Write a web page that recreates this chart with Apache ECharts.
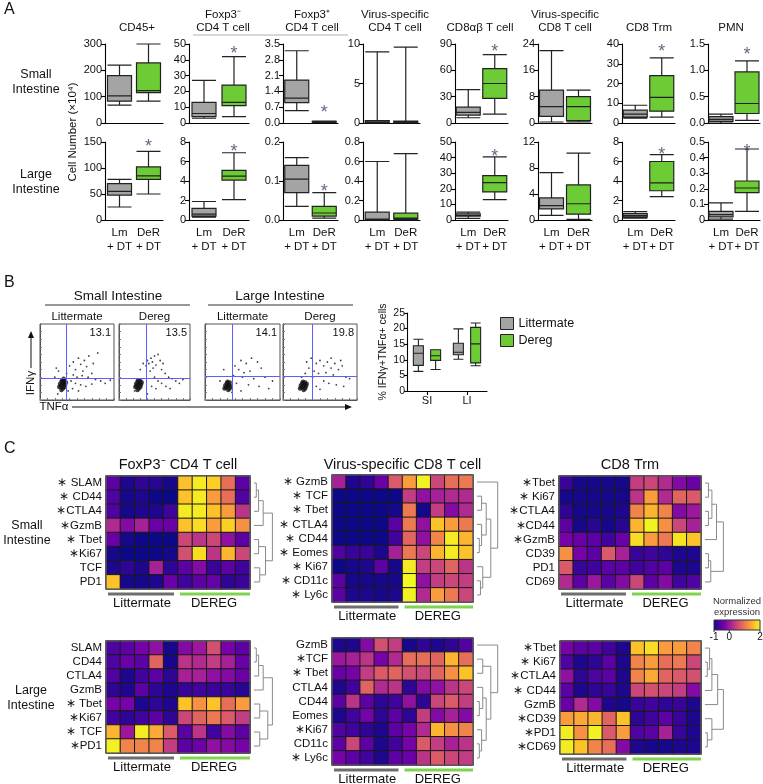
<!DOCTYPE html>
<html><head><meta charset="utf-8">
<script src="https://cdn.jsdelivr.net/npm/echarts@6/dist/echarts.min.js"></script>
<style>html,body{margin:0;padding:0;background:#fff}#c{width:763px;height:784px}</style>
</head><body><div id="c"></div>
<script>
// ---------------- DATA ----------------
const boxCategories = ['Lm\n+ DT', 'DeR\n+ DT'];
const panelATitles = ['CD45+', 'Foxp3⁻\nCD4 T cell', 'Foxp3⁺\nCD4 T cell', 'Virus-specific\nCD4 T cell', 'CD8αβ T cell', 'Virus-specific\nCD8 T cell', 'CD8 Trm', 'PMN'];
const rowNamesA = ['Small\nIntestine', 'Large\nIntestine'];
const siTickLabels = [
  ['0','100','200','300'], ['0','10','20','30','40','50'], ['0.0','0.7','1.4','2.1','2.8','3.5'], ['0','5','10'],
  ['0','30','60','90'], ['0','8','16','24'], ['0','10','20','30','40'], ['0.0','0.5','1.0','1.5']];
const siInterval = [100, 10, 0.7, 5, 30, 8, 10, 0.5];
const liTickLabels = [
  ['0','50','100','150'], ['0','2','4','6','8'], ['0.0','0.1','0.2'], ['0','0.2','0.4','0.6','0.8'],
  ['0','10','20','30','40','50'], ['0','4','8','12'], ['0','2','4','6','8'], ['0','0.1','0.2','0.3','0.4','0.5']];
const liInterval = [50, 2, 0.1, 0.2, 10, 4, 2, 0.1];
// [min, Q1, median, Q3, max]
const siLm = [[68,83,103,180,220],[3,4,6,13,27],[0.55,0.9,1.1,1.9,3.2],[0,0.02,0.1,0.3,9.0],[6,9,12,18,38],[0.3,2,5,10,22],[2.5,3,4.5,6.5,9],[0,0.03,0.07,0.12,0.17]];
const siDeR = [[83,115,123,228,300],[4,11,13,24,42],[0.02,0.04,0.05,0.07,0.08],[0,0.02,0.1,0.25,9.6],[10,28,45,62,78],[0.3,0.7,5,8,10],[3,6,13,24,33],[0.05,0.18,0.37,0.97,1.18]];
const liLm = [[25,48,55,70,78],[0.3,0.4,0.6,1.2,1.9],[0.035,0.07,0.105,0.14,0.16],[0,0,0.01,0.08,0.6],[1,2.5,3,4,5],[0.7,1.7,2.2,3.4,7.3],[0.2,0.3,0.45,0.65,0.85],[0.005,0.02,0.035,0.055,0.11]];
const liDeR = [[50,78,85,102,132],[2.1,4.1,4.5,5.1,6.9],[0.005,0.01,0.018,0.035,0.07],[0,0.01,0.02,0.07,0.68],[13,18,24,28.5,40.5],[0.1,0.9,2.5,5.4,10.3],[2.4,3,3.8,6,6.7],[0.055,0.175,0.205,0.25,0.455]];
const siStar = [null, 46.8, 0.66, null, 86, null, 38.5, 1.39];
const liStar = [150, 7.5, 0.085, null, 43.6, null, 7.2, 0.47];

// Panel B flow plots (x = TNFa, y = IFNg; 0-100 display scale)
const flowTitlesTop = ['Small Intestine', 'Large Intestine'];
const flowSubTitles = ['Littermate', 'Dereg', 'Littermate', 'Dereg'];
const flowPct = ['13.1', '13.5', '14.1', '19.8'];
const flowGateX = [36, 38, 36, 40];
const flowGateY = [29, 29, 31, 31];
const flowCluster = [
  [[28,18],[30,20],[32,22],[29,24],[33,17],[31,15],[27,21],[34,20],[30,26],[26,17],[33,25],[35,23],[29,13],[32,28]],
  [[25,18],[27,20],[29,22],[26,24],[30,17],[28,15],[24,21],[31,20],[27,26],[23,17],[30,25],[32,23],[26,13]],
  [[28,16],[30,18],[32,20],[29,22],[33,15],[31,13],[27,19],[34,18],[30,24],[26,15],[33,23]],
  [[25,16],[27,18],[29,20],[26,22],[30,15],[28,13],[24,19],[31,18],[27,24],[23,15],[30,23],[32,21]]];
const flowSparse = [
  [[22,42],[25,38],[40,45],[45,50],[48,40],[52,55],[55,47],[58,38],[60,52],[63,44],[66,58],[70,35],[72,48],[78,62],[45,33],[50,30],[57,32],[65,30],[75,27],[82,25],[88,22],[95,26],[42,25],[48,22],[55,20],[62,18],[70,21],[38,12],[44,15],[52,12],[20,30],[24,8],[36,35]],
  [[38,45],[40,52],[42,48],[45,55],[47,50],[50,58],[52,46],[55,60],[58,52],[62,48],[48,42],[44,38],[60,40],[65,35],[70,30],[75,28],[80,25],[85,22],[90,27],[55,25],[60,22],[50,30],[46,18],[52,15],[66,18],[72,15],[30,40],[34,48],[22,12],[40,8]],
  [[40,45],[48,52],[55,48],[62,55],[70,50],[45,40],[52,36],[60,38],[75,42],[50,30],[65,28],[80,30],[90,25],[42,22],[58,20],[72,18],[85,15],[38,32],[25,40],[20,25],[36,10],[48,12]],
  [[32,50],[38,55],[45,48],[50,52],[55,45],[60,50],[65,42],[70,48],[75,40],[80,45],[42,38],[48,35],[58,36],[68,33],[85,30],[90,28],[40,30],[35,42],[55,25],[62,22],[72,20],[82,18],[45,18],[50,14],[30,35],[25,30],[65,55],[78,52]]];

// Panel B summary boxplot (% IFNg+TNFa+ cells)
const bCategories = ['SI', 'LI'];
const bTickLabels = ['0','5','10','15','20','25'];
const bLitter = [[6.3,8.2,12.1,14.5,16.6],[10.2,11.6,12.4,15.3,19.9]];
const bDereg = [[6.9,9.8,11.3,13.2,13.2],[8.1,9.0,15.1,20.4,21.8]];
const bSeriesNames = ['Littermate', 'Dereg'];

// Panel C heatmaps (normalized expression, columns: 5 Littermate + 5 DEREG)
const heatTitles = ['FoxP3⁻ CD4 T cell', 'Virus-specific CD8 T cell', 'CD8 Trm'];
const heatRowNames = ['Small\nIntestine', 'Large\nIntestine'];
const groupLabels = ['Littermate', 'DEREG'];
const foxSIRows = ['∗ SLAM','∗ CD44','∗CTLA4','∗GzmB','∗ Tbet','∗Ki67','TCF','PD1'];
const foxSI = [
  [-0.5,-0.9,-0.8,-0.85,-0.95,1.6,1.9,1.7,0.9,-0.5],
  [-0.6,-0.95,-0.9,-1,-1,1.6,1.9,1.3,0.9,-0.6],
  [-0.6,-0.95,-0.9,-0.9,-0.7,1.9,1.9,1.6,1.3,0.3],
  [0.2,-0.2,0.1,-0.4,-0.4,1.6,1.8,1.3,1.7,1.2],
  [-0.4,-0.95,-1,-1,-1,0.5,0.3,0.5,-0.1,-0.5],
  [-0.95,-1,-1,-1,-0.95,0.6,1.8,0.3,1.5,0.5],
  [-0.9,-0.8,-0.9,0.1,-0.8,-0.5,-0.2,-0.75,-0.5,-0.7],
  [1.6,-0.95,-0.95,-0.9,-0.4,-0.7,-0.5,-0.45,-0.8,-0.75]];
const cd8SIRows = ['∗ GzmB','∗ TCF','∗ Tbet','∗ CTLA4','∗ CD44','∗ Eomes','∗ Ki67','∗ CD11c','∗ Ly6c'];
const cd8SI = [
  [0.1,-0.9,-0.8,-0.4,0.7,1.3,1.95,0.5,0.9,1.0],
  [-1,-1,-1,-1,-1,0.4,-0.1,0.1,0.2,0.2],
  [-1,-1,-1,-1,-0.95,1.0,-0.95,0.4,-0.2,0.2],
  [-1,-1,-1,-1,-0.5,1.0,-0.1,1.6,1.3,1.0],
  [-1,-1,-1,-1,-0.7,0.8,-0.1,1.1,1.9,1.5],
  [-0.6,-0.75,-0.75,-0.9,0.1,1.0,0.5,1.5,1.9,1.6],
  [-1,-0.95,-0.9,-0.5,-0.95,1.9,0.4,0.5,0.8,0.3],
  [-0.5,-0.95,-0.95,-0.95,-0.95,2.0,-0.1,0.4,0.5,0.4],
  [-0.5,-0.9,-0.9,-0.95,-0.9,1.95,0.2,1.3,1.0,0.5]];
const trmSIRows = ['∗Tbet','∗ Ki67','∗CTLA4','∗CD44','∗GzmB','CD39','PD1','CD69'];
const trmSI = [
  [-0.75,-0.95,-0.95,-0.95,-0.95,0.4,0.5,0.2,-0.2,-0.4],
  [-0.95,-0.95,-0.95,-0.95,-0.95,0.3,1.3,0.2,0.8,0.7],
  [-0.8,-0.95,-0.95,-0.95,-0.9,1.1,1.5,1.1,-0.2,0],
  [-0.5,-0.95,-0.85,-0.95,-0.85,1.5,1.95,1.2,0.5,0.1],
  [-0.3,-0.4,-0.5,-0.7,-0.4,1.8,1.3,1.0,1.85,1.6],
  [1.2,-0.3,-0.5,0.7,0.1,-0.75,-0.7,-0.8,-0.9,-0.9],
  [0.7,-0.75,-0.7,-0.5,-0.5,-0.7,-0.6,-0.5,-0.9,-0.9],
  [0.2,-0.5,0,-0.5,-0.2,0.5,-0.5,-0.2,-0.7,-0.6]];
const foxLIRows = ['SLAM','CD44','CTLA4','GzmB','∗ Tbet','∗Ki67','∗ TCF','∗PD1'];
const foxLI = [
  [-0.6,-0.5,-0.3,-0.1,-0.95,-0.2,0,0.6,-0.3,-0.5],
  [-0.6,-0.4,-0.5,0.8,-0.95,0.3,0.2,0.4,0.1,-0.4],
  [-0.6,-0.9,-0.7,-0.5,-0.8,0.1,0.1,-0.1,-0.2,-0.4],
  [-0.8,-0.9,-0.5,-0.8,-0.9,-0.75,-0.7,-0.75,-0.75,-0.85],
  [-0.3,-0.3,-0.9,-0.8,-0.9,1.6,1.2,1.6,0.9,1.3],
  [-0.7,-0.8,-0.7,-0.5,-0.8,0.5,0.8,1.0,0.7,0.4],
  [1.5,0,1.9,1.4,0.7,-0.5,0.3,-0.7,-0.2,-0.5],
  [1.95,1.1,1.1,1.1,0.4,-0.5,-0.4,-0.1,-0.2,-0.3]];
const cd8LIRows = ['GzmB','∗TCF','∗ Tbet','CTLA4','CD44','Eomes','∗Ki67','CD11c','∗ Ly6c'];
const cd8LI = [
  [-0.9,-0.9,-0.2,0.6,0.4,-0.95,-0.8,-0.9,-0.8,-0.6],
  [0,0.1,0.3,-0.3,0.2,0.9,0.9,0.8,1.5,0.9],
  [-0.4,-0.3,0.4,0.7,0.8,0.6,0.5,0.8,1.2,1.6],
  [-0.9,-0.7,0.8,0.2,0.3,-0.8,-0.2,-0.1,0.3,0.5],
  [-0.5,0.3,-0.5,-0.8,-0.7,-0.1,-0.8,0.5,0.7,0.4],
  [-0.9,-0.7,-0.3,-0.8,-0.5,-0.8,0.4,-0.2,0.1,-0.2],
  [-0.6,-0.7,-0.8,-0.9,-0.5,-0.3,0.2,1.5,1.2,1.1],
  [-0.5,0.5,-0.5,-0.9,-0.7,-0.3,0.7,0.4,0.1,0.3],
  [-0.3,-0.5,-0.7,-0.9,-0.5,-0.4,0.3,0.7,0.5,0.4]];
const trmLIRows = ['∗Tbet','∗ Ki67','∗CTLA4','∗ CD44','GzmB','∗CD39','∗PD1','∗CD69'];
const trmLI = [
  [-0.3,-0.5,-0.5,-0.7,-0.9,1.6,1.8,1.3,1.3,1.1],
  [-0.6,-0.9,-0.8,-0.5,-0.9,1.1,1.3,0.9,1.0,0.5],
  [-0.1,-0.8,-0.6,-0.5,-0.9,1.1,1.4,0.8,0.7,0.6],
  [-0.5,-0.9,-0.8,-0.75,-0.9,0.5,0.6,0.5,0.4,-0.2],
  [-0.4,0.2,-0.2,-0.9,-0.95,-0.75,-0.7,-0.8,-0.75,-0.9],
  [1.3,1.4,1.5,0.8,1.6,-0.8,-0.7,-0.5,-0.75,-0.9],
  [1.9,1.2,1.95,0.7,1.3,-0.6,-0.5,0.1,-0.75,-0.9],
  [1.9,1.6,1.1,0.9,-0.2,-0.9,-0.95,-0.95,-0.9,-0.9]];
// dendrogram structure: [left, right, height]; leaves are row indices
const foxSITree = [[[[0,1,1],2,2],3,4],[[4,5,2],[6,7,2.5],5],8];
const cd8SITree = [0,[[[1,2,2],[3,[4,5,1],2],4],[6,[7,8,1.5],2.5],6],9];
const trmSITree = [[[[0,1,1.5],[2,3,1.5],3],4,5],[[5,6,1.5],7,2.5],8];
const foxLITree = [[[[0,1,1],2,2],3,4],[[4,5,2.5],[6,7,2.5],6],8];
const cd8LITree = [0,[[1,2,2.5],[[3,[4,5,1],2.5],[6,[7,8,1],2],4],6],9];
const trmLITree = [[[[0,[1,2,1],2],3,3],4,5.5],[5,[6,7,1],3],8];
const colorMin = -1, colorMax = 2;
const colorbarLabels = ['-1', '0', '2'];
const colorbarValues = [-1, 0, 2];

// ---------------- STYLE / LAYOUT ----------------
const FONT = 'Liberation Sans, Arial, Helvetica, sans-serif';
const GRAY = '#a4a4a4', GREEN = '#6dcb35', INK = '#111';
const PLASMA = ['#0d0887','#46039f','#7201a8','#9c179e','#bd3786','#d8576b','#ed7953','#fb9f3a','#fdca26','#f0f921'];
const aCols = [[105,58],[189,60],[283,55],[363,57],[455,53],[538,54],[622,53],[708,52]];
const aRows = [[44,79],[142,78]];
const aTitleX = [137, 223, 312, 395, 480, 565, 649, 731];
const flowGrids = [[40,324,74,76],[119,324,71,76],[205,324,75,76],[283,324,74,76]];
const heatGrids = [[106,476,144,113],[332,475,141,127],[559,476,142,113],[106,641,144,112],[332,638,141,127],[560,641,141,113]];
const cbar = [714, 620, 46, 10];

const chart = echarts.init(document.getElementById('c'), null, {renderer: 'canvas'});
const option = {animation: false, backgroundColor: '#fff', textStyle: {fontFamily: FONT},
  grid: [], xAxis: [], yAxis: [], series: [], graphic: []};
const G = option.graphic;
function txt(x, y, text, o) {
  o = o || {};
  G.push({type: 'text', x: x, y: y, rotation: o.rot || 0, silent: true, z: 50,
    style: {text: text, fontSize: o.size || 12, fontFamily: FONT, fill: o.color || INK,
      align: o.align || 'center', verticalAlign: o.va || 'middle', lineHeight: o.lh || undefined, fontWeight: o.weight || 'normal'}});
}
function line(x1, y1, x2, y2, color, w) {
  G.push({type: 'line', silent: true, z: 50, shape: {x1: x1, y1: y1, x2: x2, y2: y2}, style: {stroke: color, lineWidth: w || 1}});
}
function poly(points, color) {
  G.push({type: 'polygon', silent: true, z: 50, shape: {points: points}, style: {fill: color}});
}
let gi = 0;
const axisLineStyle = {color: '#000', width: 1.1};

// ---------------- PANEL A ----------------
txt(4, 10, 'A', {size: 16, align: 'left'});
for (let c = 0; c < 8; c++) txt(aTitleX[c], 34, panelATitles[c], {size: 11.5, va: 'bottom', lh: 13});
line(193, 35, 348, 35, '#b0b0b0', 1);
txt(36, 82, rowNamesA[0], {size: 12.5, lh: 15});
txt(36, 182, rowNamesA[1], {size: 12.5, lh: 15});
txt(73, 132, 'Cell Number (×10⁴)', {size: 11.5, rot: Math.PI / 2});
for (let r = 0; r < 2; r++) {
  for (let c = 0; c < 8; c++) {
    const labels = r === 0 ? siTickLabels[c] : liTickLabels[c];
    const itv = r === 0 ? siInterval[c] : liInterval[c];
    const lm = r === 0 ? siLm[c] : liLm[c];
    const der = r === 0 ? siDeR[c] : liDeR[c];
    const star = r === 0 ? siStar[c] : liStar[c];
    option.grid.push({left: aCols[c][0], top: aRows[r][0], width: aCols[c][1], height: aRows[r][1], containLabel: false, outerBoundsMode: 'none'});
    option.xAxis.push({gridIndex: gi, type: 'category', data: boxCategories,
      axisLine: {lineStyle: axisLineStyle}, axisTick: {show: false}, splitLine: {show: false},
      axisLabel: {show: r === 1, interval: 0, fontSize: 11.5, lineHeight: 14, margin: 6, color: INK, fontFamily: FONT}});
    option.yAxis.push({gridIndex: gi, type: 'value', min: 0, max: itv * (labels.length - 1), interval: itv,
      axisLine: {show: true, lineStyle: axisLineStyle}, axisTick: {show: true, length: 4, lineStyle: axisLineStyle},
      splitLine: {show: false},
      axisLabel: {fontSize: 11, margin: 3, color: INK, fontFamily: FONT,
        formatter: (v) => labels[Math.round(v / itv)]}});
    option.series.push({type: 'boxplot', xAxisIndex: gi, yAxisIndex: gi, silent: true, boxWidth: [24, 24],
      itemStyle: {borderColor: '#222', borderWidth: 1.2},
      data: [{value: lm, itemStyle: {color: GRAY, borderColor: '#222'}}, {value: der, itemStyle: {color: GREEN, borderColor: '#222'}}]});
    if (star !== null) {
      option.series.push({type: 'scatter', xAxisIndex: gi, yAxisIndex: gi, silent: true, clip: false, symbolSize: 1,
        itemStyle: {color: 'rgba(0,0,0,0)'}, data: [[1, star]],
        label: {show: true, position: 'inside', formatter: '*', fontSize: 18, color: '#3d3d63', offset: [0, 5], fontFamily: FONT}});
    }
    gi++;
  }
}

// ---------------- PANEL B ----------------
txt(4, 283, 'B', {size: 16, align: 'left'});
txt(118, 296, flowTitlesTop[0], {size: 13.5});
line(45, 305, 190, 305, '#333', 1);
txt(280, 296, flowTitlesTop[1], {size: 13.5});
line(208, 305, 353, 305, '#333', 1);
for (let i = 0; i < 4; i++) {
  const [L, T, W, H] = flowGrids[i];
  txt(L + W / 2, 317, flowSubTitles[i], {size: 11.5});
  txt(L + W - 3, T + 9, flowPct[i], {size: 11, align: 'right'});
  option.grid.push({left: L, top: T, width: W, height: H, show: true, borderColor: '#555', borderWidth: 1, containLabel: false, outerBoundsMode: 'none'});
  option.xAxis.push({gridIndex: gi, type: 'value', min: 0, max: 100, interval: 10, axisLabel: {show: false},
    axisLine: {show: true, lineStyle: {color: '#555'}}, axisTick: {show: true, inside: true, length: 2, lineStyle: {color: '#777'}}, splitLine: {show: false}});
  option.yAxis.push({gridIndex: gi, type: 'value', min: 0, max: 100, interval: 10, axisLabel: {show: false},
    axisLine: {show: true, lineStyle: {color: '#555'}}, axisTick: {show: true, inside: true, length: 2, lineStyle: {color: '#777'}}, splitLine: {show: false}});
  option.series.push({type: 'scatter', xAxisIndex: gi, yAxisIndex: gi, silent: true, symbolSize: 4.5,
    itemStyle: {color: '#111'}, data: flowCluster[i],
    markLine: {silent: true, symbol: ['none', 'none'], label: {show: false}, animation: false,
      lineStyle: {color: '#5f5fff', width: 1, type: 'solid'},
      data: [{xAxis: flowGateX[i]}, {yAxis: flowGateY[i]}]}});
  option.series.push({type: 'scatter', xAxisIndex: gi, yAxisIndex: gi, silent: true, symbolSize: 1.8,
    itemStyle: {color: '#111'}, data: flowSparse[i]});
  gi++;
}
// axis arrows
txt(31, 383, 'IFNγ', {size: 11.5, rot: Math.PI / 2});
line(31, 368, 31, 337, '#111', 1);
poly([[28, 338], [34, 338], [31, 331]], '#111');
txt(54, 407, 'TNFα', {size: 11.5});
line(72, 407, 346, 407, '#111', 1);
poly([[345, 404], [345, 410], [352, 407]], '#111');
// summary boxplot
option.grid.push({left: 407, top: 313, width: 80, height: 78, containLabel: false, outerBoundsMode: 'none'});
option.xAxis.push({gridIndex: gi, type: 'category', data: bCategories,
  axisLine: {lineStyle: axisLineStyle}, axisTick: {show: true, alignWithLabel: true, length: 4, lineStyle: axisLineStyle},
  axisLabel: {fontSize: 11, color: INK, margin: 4, fontFamily: FONT}, splitLine: {show: false}});
option.yAxis.push({gridIndex: gi, type: 'value', min: 0, max: 25, interval: 5,
  name: '% IFNγ+TNFα+ cells', nameLocation: 'middle', nameRotate: 90, nameGap: 18,
  nameTextStyle: {fontSize: 10.5, color: INK, fontFamily: FONT},
  axisLine: {show: true, lineStyle: axisLineStyle}, axisTick: {show: true, length: 3, lineStyle: axisLineStyle},
  axisLabel: {fontSize: 10.5, margin: 2, color: INK, fontFamily: FONT, formatter: (v) => bTickLabels[Math.round(v / 5)]},
  splitLine: {show: false}});
option.series.push({name: bSeriesNames[0], type: 'boxplot', xAxisIndex: gi, yAxisIndex: gi, silent: true, boxWidth: [10, 10],
  itemStyle: {color: GRAY, borderColor: '#222', borderWidth: 1.1}, data: bLitter});
option.series.push({name: bSeriesNames[1], type: 'boxplot', xAxisIndex: gi, yAxisIndex: gi, silent: true, boxWidth: [10, 10],
  itemStyle: {color: GREEN, borderColor: '#222', borderWidth: 1.1}, data: bDereg});
gi++;
option.legend = {
  data: [
    {name: bSeriesNames[0], itemStyle: {color: GRAY, borderColor: '#222', borderWidth: 1}},
    {name: bSeriesNames[1], itemStyle: {color: GREEN, borderColor: '#222', borderWidth: 1}}],
  orient: 'vertical', left: 495, top: 312, itemWidth: 13, itemHeight: 12, itemGap: 4,
  icon: 'rect', selectedMode: false, textStyle: {fontSize: 12.5, color: INK, fontFamily: FONT}};

// ---------------- PANEL C ----------------
txt(4, 449, 'C', {size: 16, align: 'left'});
const heatData = [foxSI, cd8SI, trmSI, foxLI, cd8LI, trmLI];
const heatRows = [foxSIRows, cd8SIRows, trmSIRows, foxLIRows, cd8LIRows, trmLIRows];
const heatTrees = [foxSITree, cd8SITree, trmSITree, foxLITree, cd8LITree, trmLITree];
const heatSeriesIdx = [], heatGridIdx = [];
const colIdx = [0,1,2,3,4,5,6,7,8,9];
for (let k = 0; k < 6; k++) {
  const [L, T, W, H] = heatGrids[k];
  if (k < 3) txt(L + W / 2, 465, heatTitles[k], {size: 14.5});
  option.grid.push({left: L, top: T, width: W, height: H, show: true, borderColor: '#666', borderWidth: 1.2, z: 3, containLabel: false, outerBoundsMode: 'none'});
  option.xAxis.push({gridIndex: gi, type: 'category', data: colIdx, show: false});
  option.yAxis.push({gridIndex: gi, type: 'category', data: heatRows[k], inverse: true,
    axisLine: {show: false}, axisTick: {show: false}, splitLine: {show: false},
    axisLabel: {fontSize: 11.5, color: INK, margin: 4, fontFamily: FONT, interval: 0}});
  const d = [];
  heatData[k].forEach((row, r) => row.forEach((v, c) => d.push([c, r, v])));
  heatSeriesIdx.push(option.series.length);
  heatGridIdx.push(gi);
  option.series.push({type: 'heatmap', xAxisIndex: gi, yAxisIndex: gi, silent: true, data: d,
    itemStyle: {borderColor: '#1a1a1a', borderWidth: 1}, emphasis: {disabled: true}});
  // group bars
  const cw = W / 10, yb = T + H + 5;
  G.push({type: 'rect', silent: true, z: 50, shape: {x: L + 2, y: yb - 1.5, width: 5 * cw - 6, height: 3}, style: {fill: '#6e6e6e'}});
  G.push({type: 'rect', silent: true, z: 50, shape: {x: L + 5 * cw + 2, y: yb - 1.5, width: 5 * cw - 2, height: 3}, style: {fill: '#7fd34e'}});
  txt(L + 2.5 * cw, yb + 9, groupLabels[0], {size: 13});
  txt(L + 7.5 * cw, yb + 9, groupLabels[1], {size: 13});
  gi++;
}
txt(27, 533, heatRowNames[0], {size: 12.5, lh: 15});
txt(31, 698, heatRowNames[1], {size: 12.5, lh: 15});
option.visualMap = {type: 'continuous', show: false, min: colorMin, max: colorMax, seriesIndex: heatSeriesIdx,
  inRange: {color: PLASMA}};
// colour bar legend
G.push({type: 'rect', silent: true, z: 60, shape: {x: cbar[0], y: cbar[1], width: cbar[2], height: cbar[3]},
  style: {stroke: '#333', lineWidth: 1,
    fill: new echarts.graphic.LinearGradient(0, 0, 1, 0, PLASMA.map((c, i) => ({offset: i / (PLASMA.length - 1), color: c})))}});
for (let i = 0; i < 3; i++) {
  const xv = cbar[0] + (colorbarValues[i] - colorMin) / (colorMax - colorMin) * cbar[2];
  line(xv, cbar[1] + cbar[3], xv, cbar[1] + cbar[3] + 2, '#333', 1);
  txt(xv, 637, colorbarLabels[i], {size: 10});
}
txt(737, 601, 'Normalized', {size: 9.5, color: '#333'});
txt(737, 612, 'expression', {size: 9.5, color: '#333'});

chart.setOption(option);

// ---------------- DENDROGRAMS (through the axes' own scales) ----------------
const treeEls = [];
for (let k = 0; k < 6; k++) {
  const g = heatGridIdx[k];
  const p9 = chart.convertToPixel({gridIndex: g}, [9, 0]);
  const p8 = chart.convertToPixel({gridIndex: g}, [8, 0]);
  const x0 = p9[0] + (p9[0] - p8[0]) / 2 + 4;
  const unit = 2.3;
  const yOf = (r) => chart.convertToPixel({gridIndex: g}, [0, r])[1];
  const walk = (node) => {
    if (typeof node === 'number') return {y: yOf(node), h: 0};
    const a = walk(node[0]), b = walk(node[1]), h = node[2];
    const xa = x0 + a.h * unit, xb = x0 + b.h * unit, xh = x0 + h * unit;
    treeEls.push({type: 'polyline', silent: true, z: 50, shape: {points: [[xa, a.y], [xh, a.y], [xh, b.y], [xb, b.y]]},
      style: {stroke: '#8a8a8a', lineWidth: 1, fill: null}});
    return {y: (a.y + b.y) / 2, h: h};
  };
  walk(heatTrees[k]);
}
chart.setOption({graphic: G.concat(treeEls)});
</script>
</body></html>
